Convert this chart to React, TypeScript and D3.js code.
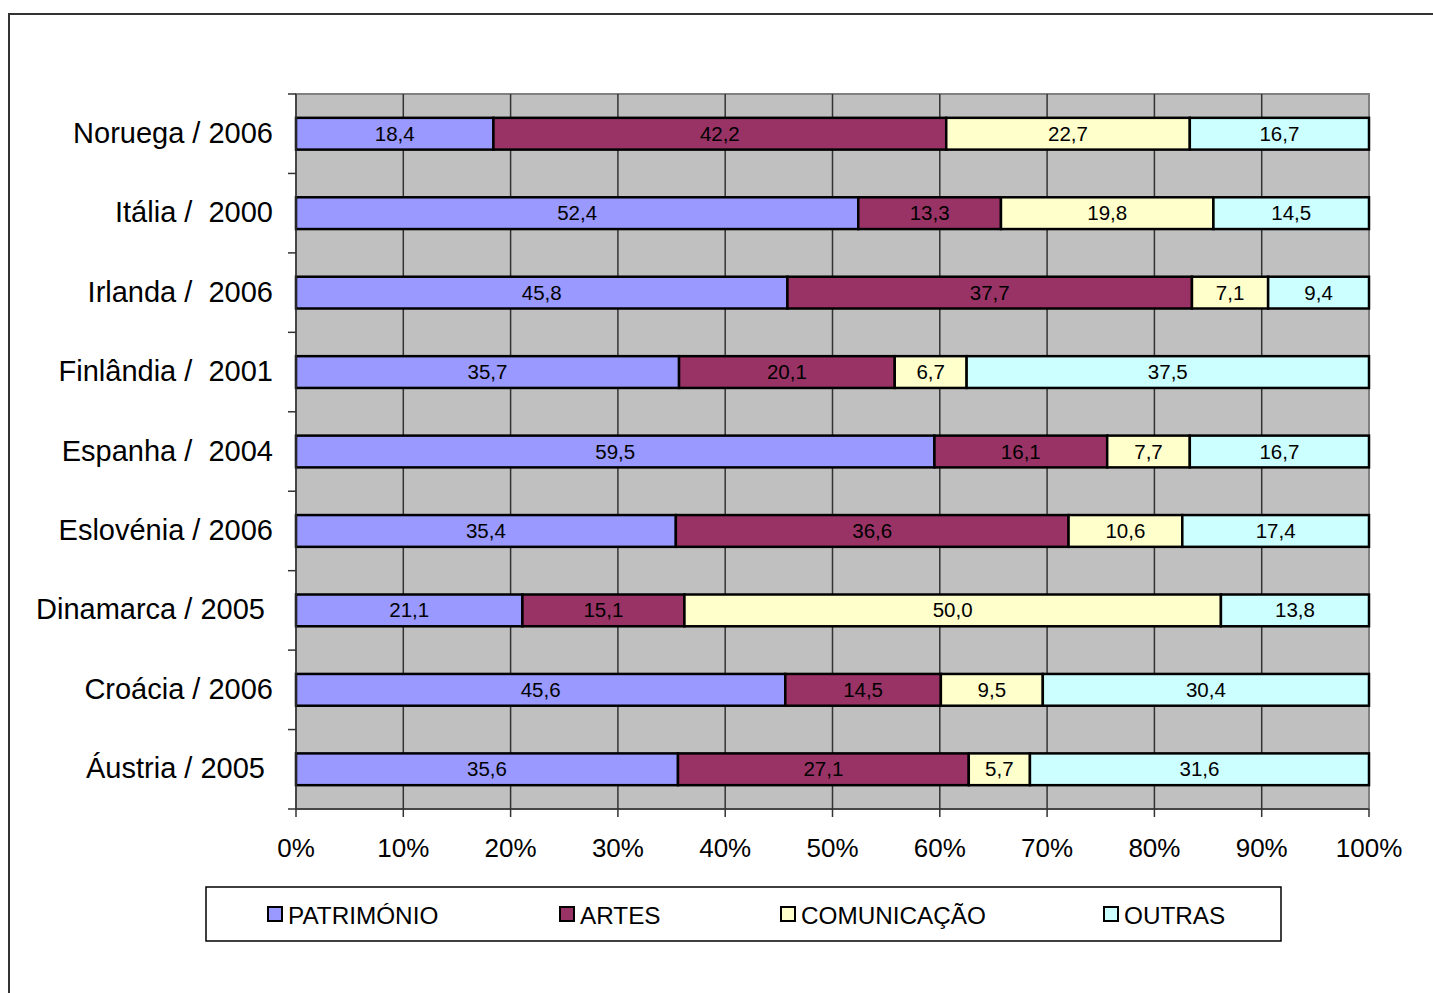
import React from "react";
import * as d3 from "d3";

const categories = [
  "Noruega / 2006",
  "Itália /  2000",
  "Irlanda /  2006",
  "Finlândia /  2001",
  "Espanha /  2004",
  "Eslovénia / 2006",
  "Dinamarca / 2005 ",
  "Croácia / 2006",
  "Áustria / 2005 ",
];

const seriesNames = ["PATRIMÓNIO", "ARTES", "COMUNICAÇÃO", "OUTRAS"];
const seriesColors = ["#9999FF", "#993366", "#FFFFCC", "#CCFFFF"];

const patrimonio = [18.4, 52.4, 45.8, 35.7, 59.5, 35.4, 21.1, 45.6, 35.6];
const artes = [42.2, 13.3, 37.7, 20.1, 16.1, 36.6, 15.1, 14.5, 27.1];
const comunicacao = [22.7, 19.8, 7.1, 6.7, 7.7, 10.6, 50.0, 9.5, 5.7];
const outras = [16.7, 14.5, 9.4, 37.5, 16.7, 17.4, 13.8, 30.4, 31.6];

const tickValues = [0, 0.1, 0.2, 0.3, 0.4, 0.5, 0.6, 0.7, 0.8, 0.9, 1];

const FONT = "'Liberation Sans', Arial, sans-serif";

export default function App() {
  const W = 1433;
  const H = 993;
  const left = 296;
  const right = 1369;
  const top = 94;
  const bottom = 809;

  const x = d3.scaleLinear().domain([0, 1]).range([left, right]);
  const y = d3
    .scaleBand<number>()
    .domain(d3.range(categories.length))
    .range([top, bottom])
    .paddingInner(0.6)
    .paddingOuter(0.3);

  const rows = categories.map((c, i) => ({
    name: c,
    PATRIMÓNIO: patrimonio[i],
    ARTES: artes[i],
    COMUNICAÇÃO: comunicacao[i],
    OUTRAS: outras[i],
  }));
  const stacked = d3
    .stack<any>()
    .keys(seriesNames)
    .offset(d3.stackOffsetExpand)(rows);

  const fmt = (v: number) => v.toFixed(1).replace(".", ",");
  const bandStep = (bottom - top) / categories.length;

  const legendX = [268, 560, 781, 1104];

  return (
    <svg
      width={W}
      height={H}
      style={{ position: "absolute", left: 0, top: 0, background: "#fff" }}
      fontFamily={FONT}
    >
      {/* outer frame */}
      <rect x={9} y={14} width={1500} height={1100} fill="none" stroke="#333" strokeWidth={2} />

      {/* plot background */}
      <rect x={left} y={top} width={right - left} height={bottom - top} fill="#C0C0C0" stroke="#808080" strokeWidth={2} />

      {/* vertical gridlines */}
      {tickValues.slice(1, -1).map((t) => (
        <line key={t} x1={x(t)} x2={x(t)} y1={top} y2={bottom} stroke="#333" strokeWidth={1.5} />
      ))}

      {/* bars */}
      {stacked.map((s, si) =>
        s.map((d, i) => {
          const x0 = x(d[0]);
          const x1 = x(d[1]);
          return (
            <g key={`${si}-${i}`}>
              <rect
                x={x0}
                y={y(i)}
                width={x1 - x0}
                height={y.bandwidth()}
                fill={seriesColors[si]}
                stroke="#000"
                strokeWidth={2.5}
              />
              <text
                x={(x0 + x1) / 2}
                y={(y(i) as number) + y.bandwidth() / 2 - 0.5}
                textAnchor="middle"
                dominantBaseline="central"
                fontSize={20.5}
                fill="#000"
              >
                {fmt(rows[i][seriesNames[si] as keyof (typeof rows)[number]] as number)}
              </text>
            </g>
          );
        })
      )}

      {/* axes */}
      <line x1={left} x2={left} y1={top} y2={bottom} stroke="#333" strokeWidth={1.5} />
      <line x1={left} x2={right} y1={bottom} y2={bottom} stroke="#333" strokeWidth={1.5} />
      {d3.range(categories.length + 1).map((k) => (
        <line
          key={k}
          x1={left - 8}
          x2={left}
          y1={top + k * bandStep}
          y2={top + k * bandStep}
          stroke="#333"
          strokeWidth={1.5}
        />
      ))}
      {tickValues.map((t) => (
        <g key={t}>
          <line x1={x(t)} x2={x(t)} y1={bottom} y2={bottom + 8} stroke="#333" strokeWidth={1.5} />
          <text x={x(t)} y={848} textAnchor="middle" dominantBaseline="central" fontSize={26} fill="#000">
            {`${Math.round(t * 100)}%`}
          </text>
        </g>
      ))}

      {/* category labels */}
      {categories.map((c, i) => (
        <text
          key={c}
          x={273}
          y={(y(i) as number) + y.bandwidth() / 2 - 1}
          textAnchor="end"
          dominantBaseline="central"
          fontSize={29}
          fill="#000"
          style={{ whiteSpace: "pre" }}
        >
          {c}
        </text>
      ))}

      {/* legend */}
      <rect x={206} y={887} width={1075} height={54} fill="#fff" stroke="#000" strokeWidth={1.5} />
      {seriesNames.map((n, i) => (
        <g key={n}>
          <rect x={legendX[i]} y={907} width={14} height={14} fill={seriesColors[i]} stroke="#000" strokeWidth={2} />
          <text x={legendX[i] + 20} y={915} dominantBaseline="central" fontSize={24.3} fill="#000">
            {n}
          </text>
        </g>
      ))}
    </svg>
  );
}
